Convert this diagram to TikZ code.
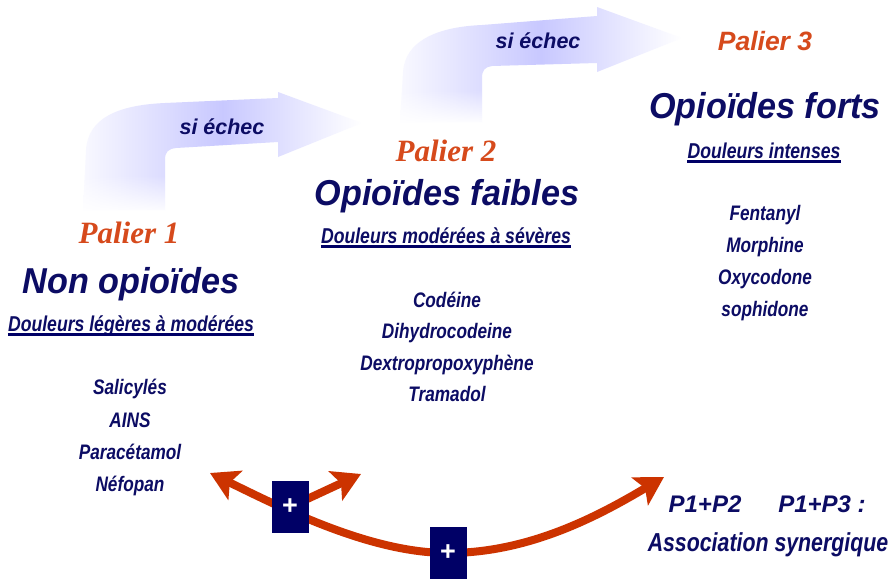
\documentclass[tikz,border=0pt]{standalone}
\usepackage{fontspec}
\setmainfont{Liberation Sans}
\newfontfamily\nar[FakeStretch=0.82]{Liberation Sans}
\newfontfamily\wid[FakeStretch=0.95]{Liberation Sans}
\newfontfamily\tms{Liberation Serif}
\usetikzlibrary{arrows.meta,fadings}
\definecolor{navy}{RGB}{0,0,102}
\definecolor{txt}{RGB}{12,12,100}
\definecolor{pal}{RGB}{214,74,28}
\definecolor{arr}{RGB}{204,51,0}
\definecolor{lav}{RGB}{200,200,255}
\tikzfading[name=fadeup, top color=transparent!100, bottom color=transparent!0]
\pgfdeclarelayer{bg}
\pgfsetlayers{bg,main}
\begin{document}
\begin{tikzpicture}[x=1pt,y=-1pt,
  base/.style={inner sep=0pt, anchor=base, text=txt},
  palier/.style={base, text=pal, font=\tms\bfseries\itshape\fontsize{31}{36}\selectfont},
  palierS/.style={base, text=pal, font=\bfseries\itshape\fontsize{26.5}{30}\selectfont},
  title/.style={base, font=\wid\bfseries\itshape\fontsize{36}{40}\selectfont},
  sub/.style={base, font=\nar\bfseries\itshape\fontsize{21.5}{25}\selectfont},
  drug/.style={base, font=\nar\bfseries\itshape\fontsize{21}{25}\selectfont},
  echec/.style={base, font=\bfseries\itshape\fontsize{21.5}{25}\selectfont},
  ul/.style={draw=navy, line width=2.6pt},
  plusbox/.style={fill=navy, minimum width=37pt, minimum height=52pt, inner sep=0pt,
    text=white, font=\bfseries\fontsize{27}{28}\selectfont},
  redarr/.style={draw=arr, line width=8pt, -{Stealth[length=28pt,width=32pt,inset=6pt]}},
  bigarrow/.style={left color=lav!12, right color=white, middle color=lav, draw=none}
]
\begin{pgfonlayer}{bg}
\useasboundingbox (0,0) rectangle (895,578);
\fill[white] (0,0) rectangle (895,578);
% si echec arrow 1
\path[bigarrow] (83,210) -- (86,150) .. controls (88,118) and (118,105) .. (165,103)
  -- (278,98) -- (278,92) -- (362,123) -- (278,157) -- (278,142) -- (176,148)
  .. controls (168,149) and (165,152) .. (165,160) -- (165,210) -- cycle;
\fill[white, path fading=fadeup] (78,175) rectangle (170,213);
% si echec arrow 2
\path[bigarrow] (400,122) -- (403,72) .. controls (405,42) and (435,27) .. (482,25)
  -- (597,16) -- (597,7) -- (682,38) -- (597,72) -- (597,63) -- (492,66)
  .. controls (485,67) and (482,70) .. (482,78) -- (482,122) -- cycle;
\fill[white, path fading=fadeup] (395,90) rectangle (487,124);
\end{pgfonlayer}

\node[echec] (e1) at (222,134) {si échec};
\node[echec] (e2) at (538,48) {si échec};

% column 1
\node[palier] (p1) at (129,243) {Palier 1};
\node[title] (t1) at (131,293) {Non opioïdes};
\node[sub] (d1) at (131,331) {Douleurs légères à modérées};
\draw[ul] ([yshift=-3.5pt]d1.base west) -- ([yshift=-3.5pt]d1.base east);
\node[drug] (a1) at (130,394) {Salicylés};
\node[drug] (a2) at (130,427) {AINS};
\node[drug] (a3) at (130,459) {Paracétamol};
\node[drug] (a4) at (130,491) {Néfopan};

% column 2
\node[palier] (p2) at (446,161) {Palier 2};
\node[title] (t2) at (447,205) {Opioïdes faibles};
\node[sub] (d2) at (446,243) {Douleurs modérées à sévères};
\draw[ul] ([yshift=-3.5pt]d2.base west) -- ([yshift=-3.5pt]d2.base east);
\node[drug] (b1) at (447,307) {Codéine};
\node[drug] (b2) at (447,338) {Dihydrocodeine};
\node[drug] (b3) at (447,370) {Dextropropoxyphène};
\node[drug] (b4) at (447,401) {Tramadol};

% column 3
\node[palierS] (p3) at (765,50) {Palier 3};
\node[title] (t3) at (765,118) {Opioïdes forts};
\node[sub] (d3) at (764,158) {Douleurs intenses};
\draw[ul] ([yshift=-3.5pt]d3.base west) -- ([yshift=-3.5pt]d3.base east);
\node[drug] (c1) at (765,220) {Fentanyl};
\node[drug] (c2) at (765,252) {Morphine};
\node[drug] (c3) at (765,284) {Oxycodone};
\node[drug] (c4) at (765,316) {sophidone};

% associations
\node[base, font=\bfseries\itshape\fontsize{24}{28}\selectfont] (q1) at (705,512) {P1+P2};
\node[base, font=\bfseries\itshape\fontsize{24}{28}\selectfont] (q2) at (822,512) {P1+P3 :};
\node[base, font=\nar\bfseries\itshape\fontsize{26}{30}\selectfont] (q3) at (768,551) {Association synergique};

% red arrows
\node[plusbox] (box1) at (290,507) {+};
\node[plusbox] (box2) at (448,553) {+};
\coordinate (lt) at (210,473);
\coordinate (rt) at (664,477);
\coordinate (st) at (361,474);
\begin{pgfonlayer}{bg}
\draw[redarr] (box2.center) .. controls (370,553) and (282,508) .. (lt);
\draw[redarr] (box2.center) .. controls (530,553) and (600,515) .. (rt);
\draw[redarr] (box1.center) -- (st);
\end{pgfonlayer}
\end{tikzpicture}
\end{document}
